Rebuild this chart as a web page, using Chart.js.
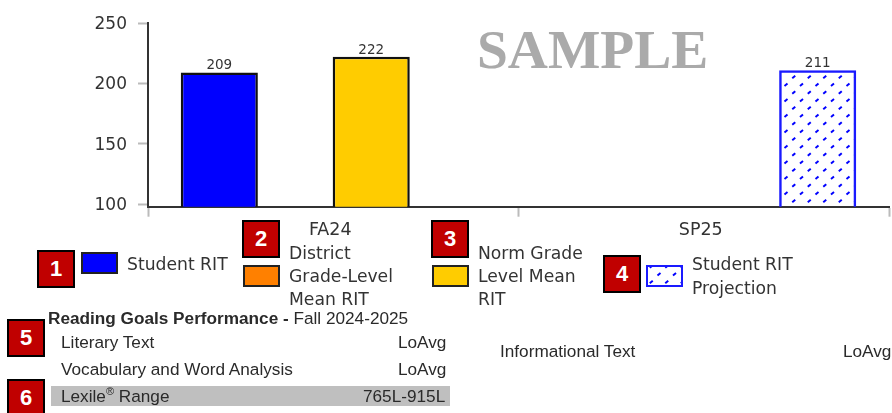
<!DOCTYPE html>
<html lang="en">
<head>
  <meta charset="UTF-8">
  <title>Reading RIT chart</title>
  <script src="https://cdn.jsdelivr.net/npm/chart.js"></script>
  <style>
    html, body { margin: 0; padding: 0; background: #fff; overflow: hidden; }
    #page { position: relative; width: 892px; height: 413px; overflow: hidden; }
    #chart { position: absolute; left: 0; top: 0; }
    .t { position: absolute; white-space: nowrap; transform: translateY(-50%); color: #2a2a2a; }
    .leg { font: 17.2px "DejaVu Sans", sans-serif; color: #333; }
    .tbl { font: 17.2px "Liberation Sans", Arial, sans-serif; }
    .badge {
      position: absolute; width: 34px; height: 34px; border: 2px solid #000; background: #c00000;
      color: #fff; font: bold 22px/34px "Liberation Sans", Arial, sans-serif; text-align: center;
    }
    .swatch { position: absolute; width: 33px; height: 18px; border: 2px solid #222; }
    #sample {
      position: absolute; left: 477px; top: 49px; transform: translateY(-50%); white-space: nowrap;
      font: bold 55.5px "Liberation Serif", serif; color: #aaa;
    }
    #lexile { position: absolute; left: 51px; top: 386px; width: 399px; height: 20px; background: #bfbfbf; }
  </style>
</head>
<body>
<div id="page">
  <canvas id="chart" width="892" height="413"></canvas>
  <div id="sample">SAMPLE</div>

  <div class="badge" style="left:37px;top:250px">1</div>
  <div class="swatch" style="left:81px;top:252px;background:#0000ff"></div>
  <div class="t leg" style="left:127px;top:264px">Student RIT</div>

  <div class="badge" style="left:242px;top:220px">2</div>
  <div class="swatch" style="left:243px;top:265px;background:#ff8000"></div>
  <div class="t leg" style="left:289px;top:253px">District</div>
  <div class="t leg" style="left:289px;top:276px">Grade-Level</div>
  <div class="t leg" style="left:289px;top:299px">Mean RIT</div>

  <div class="badge" style="left:431px;top:220px">3</div>
  <div class="swatch" style="left:432px;top:265px;background:#ffcc00"></div>
  <div class="t leg" style="left:478px;top:253px">Norm Grade</div>
  <div class="t leg" style="left:478px;top:276px">Level Mean</div>
  <div class="t leg" style="left:478px;top:299px">RIT</div>

  <div class="badge" style="left:603px;top:255px">4</div>
  <div class="swatch" id="projSwatch" style="left:646px;top:265px;border-color:#1a1aff"></div>
  <div class="t leg" style="left:692px;top:264px">Student RIT</div>
  <div class="t leg" style="left:692px;top:288px">Projection</div>

  <div class="badge" style="left:7px;top:319px">5</div>
  <div class="t tbl" style="left:48px;top:318px"><b>Reading Goals Performance - </b>Fall 2024-2025</div>
  <div class="t tbl" style="left:61px;top:342px">Literary Text</div>
  <div class="t tbl" style="left:398px;top:342px">LoAvg</div>
  <div class="t tbl" style="left:61px;top:369px">Vocabulary and Word Analysis</div>
  <div class="t tbl" style="left:398px;top:369px">LoAvg</div>
  <div class="t tbl" style="left:500px;top:351px">Informational Text</div>
  <div class="t tbl" style="left:843px;top:351px">LoAvg</div>

  <div id="lexile"></div>
  <div class="badge" style="left:7px;top:379px">6</div>
  <div class="t tbl" style="left:61px;top:396px">Lexile<sup style="font-size:11px;line-height:0">®</sup> Range</div>
  <div class="t tbl" style="left:363px;top:396px">765L-915L</div>
</div>

<script>
  const categories = ['FA24', 'SP25'];
  const studentRit = [209, null];
  const districtMean = [null, null];
  const normMean = [222, null];
  const projection = [null, 211];
  const yTicks = [100, 150, 200, 250];

  // dotted fill for the projection bar, same tile for the legend swatch
  function dotTile() {
    const c = document.createElement('canvas');
    c.width = 31; c.height = 31;
    const g = c.getContext('2d');
    g.strokeStyle = '#0000ff';
    g.lineWidth = 2;
    for (let i = -1; i < 5; i++) {
      for (let j = -1; j < 5; j++) {
        const x = 11 + i * 15.5 + (j % 2 ? 7.75 : 0);
        const y = 15 + j * 7.75 - 7.75;
        g.beginPath();
        g.moveTo(x - 1.5, y + 1.2);
        g.lineTo(x + 1.5, y - 1.2);
        g.stroke();
      }
    }
    return c;
  }

  const tile = dotTile();
  const ctx = document.getElementById('chart').getContext('2d');
  document.getElementById('projSwatch').style.background = 'url(' + tile.toDataURL() + ')';

  const valueLabels = {
    id: 'valueLabels',
    afterDatasetsDraw(chart) {
      const c = chart.ctx;
      c.save();
      c.font = '13.5px "DejaVu Sans", sans-serif';
      c.fillStyle = '#333';
      c.textAlign = 'center';
      c.textBaseline = 'bottom';
      chart.data.datasets.forEach((ds, i) => {
        chart.getDatasetMeta(i).data.forEach((bar, k) => {
          if (ds.data[k] !== null) c.fillText(ds.data[k], bar.x, bar.y);
        });
      });
      c.restore();
    }
  };

  new Chart(ctx, {
    type: 'bar',
    data: {
      labels: categories,
      datasets: [
        { label: 'Student RIT', data: studentRit, backgroundColor: '#0000ff', borderColor: '#111' },
        { label: 'District Grade-Level Mean RIT', data: districtMean, backgroundColor: '#ff8000', borderColor: '#111' },
        { label: 'Norm Grade Level Mean RIT', data: normMean, backgroundColor: '#ffcc00', borderColor: '#111' },
        { label: 'Student RIT Projection', data: projection, backgroundColor: ctx.createPattern(tile, 'repeat'), borderColor: '#1a1aff' }
      ]
    },
    options: {
      responsive: false,
      animation: false,
      devicePixelRatio: 1,
      layout: { padding: { top: 23, right: 3, left: 0, bottom: 0 } },
      datasets: { bar: { categoryPercentage: 0.82, barPercentage: 1.015, borderWidth: 2.5, borderSkipped: false } },
      plugins: { legend: { display: false }, tooltip: { enabled: false } },
      scales: {
        x: {
          afterFit: s => { s.height = 206.3; },
          border: { color: '#333', width: 2 },
          grid: { drawOnChartArea: false, tickLength: 10, tickColor: '#bbb', tickWidth: 2 },
          ticks: { color: '#333', padding: 3, labelOffset: -3, font: { family: 'DejaVu Sans', size: 17.5 }, maxRotation: 0 }
        },
        y: {
          min: 98,
          max: 250,
          afterFit: s => { s.width = 148; },
          afterBuildTicks: s => { s.ticks = yTicks.map(v => ({ value: v })); },
          border: { color: '#333', width: 2 },
          grid: { drawOnChartArea: false, tickLength: 10, tickColor: '#bbb', tickWidth: 2 },
          ticks: { color: '#333', padding: 11, labelOffset: 1.5, font: { family: 'DejaVu Sans', size: 17 } }
        }
      }
    },
    plugins: [valueLabels]
  });
</script>
</body>
</html>
